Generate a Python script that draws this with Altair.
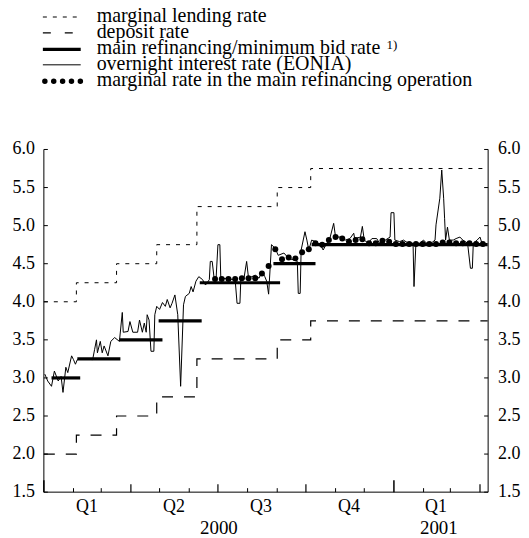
import altair as alt
import pandas as pd

# ---------------- data ----------------
eonia_dates = [
    "2000-01-02", "2000-01-05", "2000-01-09", "2000-01-12", "2000-01-16", "2000-01-19",
    "2000-01-21", "2000-01-24", "2000-01-26", "2000-01-30", "2000-02-01", "2000-02-03",
    "2000-02-05", "2000-02-12", "2000-02-21", "2000-02-23", "2000-02-25", "2000-02-26",
    "2000-02-29", "2000-03-02", "2000-03-04", "2000-03-08", "2000-03-11", "2000-03-15",
    "2000-03-20", "2000-03-23", "2000-03-24", "2000-03-29", "2000-03-31", "2000-04-03",
    "2000-04-08", "2000-04-10", "2000-04-13", "2000-04-15", "2000-04-17", "2000-04-18",
    "2000-04-20", "2000-04-22", "2000-04-25", "2000-04-26", "2000-04-28", "2000-05-01",
    "2000-05-04", "2000-05-07", "2000-05-09", "2000-05-12", "2000-05-14", "2000-05-17",
    "2000-05-20", "2000-05-23", "2000-05-26", "2000-05-28", "2000-06-01", "2000-06-03",
    "2000-06-05", "2000-06-08", "2000-06-11", "2000-06-15", "2000-06-18", "2000-06-22",
    "2000-06-23", "2000-06-25", "2000-06-27", "2000-06-29", "2000-07-01", "2000-07-03",
    "2000-07-04", "2000-07-12", "2000-07-19", "2000-07-21", "2000-07-24", "2000-07-25",
    "2000-07-28", "2000-07-31", "2000-08-02", "2000-08-09", "2000-08-13", "2000-08-16",
    "2000-08-19", "2000-08-21", "2000-08-23", "2000-08-26", "2000-08-30", "2000-09-02",
    "2000-09-08", "2000-09-13", "2000-09-18", "2000-09-22", "2000-09-23", "2000-09-25",
    "2000-09-26", "2000-09-30", "2000-10-02", "2000-10-04", "2000-10-07", "2000-10-11",
    "2000-10-16", "2000-10-19", "2000-10-23", "2000-10-26", "2000-10-30", "2000-11-01",
    "2000-11-06", "2000-11-11", "2000-11-16", "2000-11-20", "2000-11-21", "2000-11-27",
    "2000-11-29", "2000-12-01", "2000-12-05", "2000-12-09", "2000-12-14", "2000-12-17",
    "2000-12-23", "2000-12-28", "2000-12-29", "2001-01-01", "2001-01-02", "2001-01-07",
    "2001-01-11", "2001-01-16", "2001-01-21", "2001-01-22", "2001-01-24", "2001-01-28",
    "2001-02-01", "2001-02-04", "2001-02-09", "2001-02-13", "2001-02-14", "2001-02-18",
    "2001-02-20", "2001-02-22", "2001-02-23", "2001-02-24", "2001-02-26", "2001-02-28",
    "2001-03-04", "2001-03-07", "2001-03-11", "2001-03-14", "2001-03-19", "2001-03-22",
    "2001-03-24", "2001-03-25", "2001-03-29", "2001-04-01", "2001-04-03", "2001-04-07",
]
eonia_values = [
    3.05, 2.96, 2.89, 3.09, 2.96, 3.02,
    2.81, 3.14, 3.07, 3.29, 3.24, 3.18,
    3.24, 3.25, 3.24, 3.37, 3.50, 3.33,
    3.48, 3.33, 3.42, 3.29, 3.48, 3.53,
    3.48, 3.86, 3.60, 3.61, 3.74, 3.60,
    3.60, 3.76, 3.60, 3.72, 3.60, 3.83,
    3.76, 3.35, 3.35, 3.83, 3.94, 3.90,
    3.99, 3.94, 4.03, 3.92, 3.98, 4.09,
    3.83, 2.89, 3.96, 4.07, 4.11, 4.20,
    4.13, 4.27, 4.33, 4.29, 4.22, 4.29,
    4.53, 4.53, 4.31, 4.29, 4.75, 4.75,
    4.31, 4.30, 4.29, 3.98, 3.98, 4.31,
    4.29, 4.53, 4.31, 4.35, 4.31, 4.40,
    4.33, 4.27, 4.10, 4.75, 4.70, 4.61,
    4.64, 4.57, 4.55, 4.53, 4.11, 4.11,
    4.68, 4.92, 4.81, 4.68, 4.81, 4.79,
    4.75, 4.68, 4.77, 4.83, 5.03, 4.85,
    4.85, 4.81, 4.83, 4.90, 4.83, 4.85,
    4.99, 4.81, 4.77, 4.83, 4.83, 4.77,
    4.81, 4.85, 5.17, 5.17, 4.81, 4.79,
    4.81, 4.77, 4.77, 4.20, 4.77, 4.77,
    4.81, 4.77, 4.77, 4.81, 5.01, 5.36,
    5.73, 5.36, 5.09, 4.81, 4.98, 4.81,
    4.81, 4.83, 4.85, 4.81, 4.77, 4.44,
    4.44, 4.77, 4.81, 4.85, 4.77, 4.75,
]

step_dates = ["2000-01-01", "2000-02-04", "2000-03-17", "2000-04-28",
              "2000-06-09", "2000-09-01", "2000-10-06", "2001-04-09"]
lending_values = [4.00, 4.25, 4.50, 4.75, 5.25, 5.50, 5.75, 5.75]
deposit_values = [2.00, 2.25, 2.50, 2.75, 3.25, 3.50, 3.75, 3.75]

mro_start = ["2000-01-09", "2000-02-05", "2000-03-20", "2000-04-30",
             "2000-06-12", "2000-08-28", "2000-10-07"]
mro_end = ["2000-02-08", "2000-03-21", "2000-05-04", "2000-06-14",
           "2000-09-04", "2000-10-11", "2001-04-09"]
mro_values = [3.00, 3.25, 3.50, 3.75, 4.25, 4.50, 4.75]

marginal_first = "2000-06-28"
marginal_values = [
    4.30, 4.30, 4.30, 4.30, 4.31, 4.31, 4.31, 4.37, 4.47, 4.69,
    4.56, 4.58, 4.57, 4.65, 4.69, 4.77, 4.75, 4.81, 4.85, 4.83,
    4.79, 4.81, 4.82, 4.77, 4.77, 4.80, 4.79, 4.76, 4.76, 4.76,
    4.76, 4.76, 4.76, 4.76, 4.78, 4.78, 4.77, 4.77, 4.77, 4.76,
    4.76,
]

y_ticks = [1.5, 2.0, 2.5, 3.0, 3.5, 4.0, 4.5, 5.0, 5.5, 6.0]
month_ticks = ["2000-02-01", "2000-03-01", "2000-05-01", "2000-06-01", "2000-08-01",
               "2000-09-01", "2000-11-01", "2000-12-01", "2001-02-01", "2001-03-01"]
quarter_ticks = ["2000-04-01", "2000-07-01", "2000-10-01", "2001-04-01"]
year_ticks = ["2000-01-01", "2001-01-01"]
quarter_labels = ["Q1", "Q2", "Q3", "Q4", "Q1"]
quarter_mids = ["2000-02-15", "2000-05-16", "2000-08-15", "2000-11-15", "2001-02-14"]
year_labels = ["2000", "2001"]
year_mids = ["2000-07-02", "2001-02-17"]

legend_labels = [
    "marginal lending rate",
    "deposit rate",
    "main refinancing/minimum bid rate",
    "overnight interest rate (EONIA)",
    "marginal rate in the main refinancing operation",
]

# ---------------- tables ----------------
df_eonia = pd.DataFrame({"date": pd.to_datetime(eonia_dates), "v": eonia_values})
df_lend = pd.DataFrame({"date": pd.to_datetime(step_dates), "v": lending_values})
df_dep = pd.DataFrame({"date": pd.to_datetime(step_dates), "v": deposit_values})
df_mro = pd.DataFrame({"d1": pd.to_datetime(mro_start), "d2": pd.to_datetime(mro_end),
                       "v": mro_values})
df_marg = pd.DataFrame({
    "date": pd.date_range(marginal_first, periods=len(marginal_values), freq="7D"),
    "v": marginal_values})
df_yt = pd.DataFrame({"v": y_ticks})
df_mt = pd.DataFrame({"date": pd.to_datetime(month_ticks)})
df_qt = pd.DataFrame({"date": pd.to_datetime(quarter_ticks)})
df_yrt = pd.DataFrame({"date": pd.to_datetime(year_ticks)})
df_ql = pd.DataFrame({"date": pd.to_datetime(quarter_mids), "lab": quarter_labels})
df_yl = pd.DataFrame({"date": pd.to_datetime(year_mids), "lab": year_labels})
one = pd.DataFrame({"k": [0]})

# ---------------- geometry / style ----------------
W, H = 446, 344
FONT = "Liberation Serif"
AX_FS = 18
YR_FS = 19
LEG_FS = 20

xscale = alt.Scale(domain=[alt.DateTime(year=2000, month=1, date=1),
                           alt.DateTime(year=2001, month=4, date=9, hours=12)])
yscale = alt.Scale(domain=[1.5, 6.0], nice=False, zero=False)


def X(f="date"):
    return alt.X(f"{f}:T", scale=xscale, axis=None)


def Y():
    return alt.Y("v:Q", scale=yscale, axis=None)


lend = alt.Chart(df_lend).mark_line(
    interpolate="step-after", color="black", strokeWidth=1, strokeDash=[4, 6]
).encode(x=X(), y=Y())

dep = alt.Chart(df_dep).mark_line(
    interpolate="step-after", color="black", strokeWidth=1.2, strokeDash=[11, 11]
).encode(x=X(), y=Y())

eonia = alt.Chart(df_eonia).mark_line(color="black", strokeWidth=1).encode(x=X(), y=Y())

mro = alt.Chart(df_mro).mark_rule(color="black", strokeWidth=3.2).encode(
    x=X("d1"), x2="d2:T", y=Y())

marg = alt.Chart(df_marg).mark_point(filled=True, color="black", size=36, opacity=1).encode(
    x=X(), y=Y())

# axes drawn by hand (ticks point inward)
dom_left = alt.Chart(one).mark_rule(color="black").encode(
    x=alt.value(0), y=alt.value(0), y2=alt.value(H))
dom_right = alt.Chart(one).mark_rule(color="black").encode(
    x=alt.value(W), y=alt.value(0), y2=alt.value(H))
dom_bottom = alt.Chart(one).mark_rule(color="black").encode(
    x=alt.value(0), x2=alt.value(W), y=alt.value(H))

ytick_l = alt.Chart(df_yt).mark_rule(color="black").encode(
    y=Y(), x=alt.value(0), x2=alt.value(4))
ytick_r = alt.Chart(df_yt).mark_rule(color="black").encode(
    y=Y(), x=alt.value(W - 4), x2=alt.value(W))
ylab_l = alt.Chart(df_yt).mark_text(font=FONT, fontSize=AX_FS, color="black",
                                    align="right", baseline="middle").encode(
    y=Y(), x=alt.value(-9), text=alt.Text("v:Q", format=".1f"))
ylab_r = alt.Chart(df_yt).mark_text(font=FONT, fontSize=AX_FS, color="black",
                                    align="left", baseline="middle").encode(
    y=Y(), x=alt.value(W + 10), text=alt.Text("v:Q", format=".1f"))

mtick = alt.Chart(df_mt).mark_rule(color="black").encode(
    x=X(), y=alt.value(H), y2=alt.value(H - 4))
qtick = alt.Chart(df_qt).mark_rule(color="black", strokeWidth=1.2).encode(
    x=X(), y=alt.value(H), y2=alt.value(H - 8))
yrtick = alt.Chart(df_yrt).mark_rule(color="black", strokeWidth=1.5).encode(
    x=X(), y=alt.value(H), y2=alt.value(H - 12))

qlab = alt.Chart(df_ql).mark_text(font=FONT, fontSize=AX_FS, color="black",
                                  baseline="middle").encode(
    x=X(), y=alt.value(H + 15), text="lab:N")
ylab = alt.Chart(df_yl).mark_text(font=FONT, fontSize=YR_FS, color="black",
                                  baseline="middle").encode(
    x=X(), y=alt.value(H + 36), text="lab:N")

# ---------------- legend ----------------
leg_base = [-127.5, -111.5, -95.5, -79.5, -63.5]
leg_sym = [-133, -117, -100.5, -85, -68.5]
sym_x1, sym_x2, txt_x = -1, 37, 53

legend_layers = []
for lab, yb in zip(legend_labels, leg_base):
    legend_layers.append(
        alt.Chart(one).mark_text(text=lab, font=FONT, fontSize=LEG_FS, color="black",
                                 align="left", baseline="alphabetic").encode(
            x=alt.value(txt_x), y=alt.value(yb)))
legend_layers.append(
    alt.Chart(one).mark_text(text="1)", font=FONT, fontSize=13, color="black",
                             align="left", baseline="alphabetic").encode(
        x=alt.value(txt_x + 291), y=alt.value(leg_base[2] - 5)))

sym_styles = [
    dict(strokeWidth=1, strokeDash=[4, 6]),
    dict(strokeWidth=1.2, strokeDash=[8, 14]),
    dict(strokeWidth=3.2),
    dict(strokeWidth=1),
    dict(strokeWidth=5.5, strokeDash=[0.01, 8.9], strokeCap="round"),
]
for st, ys in zip(sym_styles, leg_sym):
    legend_layers.append(
        alt.Chart(one).mark_rule(color="black", **st).encode(
            x=alt.value(sym_x1 + (2 if "strokeCap" in st else 0)),
            x2=alt.value(sym_x2), y=alt.value(ys)))

chart = alt.layer(
    lend, dep, eonia, mro, marg,
    dom_left, dom_right, dom_bottom, ytick_l, ytick_r, ylab_l, ylab_r,
    mtick, qtick, yrtick, qlab, ylab, *legend_layers
).properties(
    width=W, height=H,
    padding={"left": 36, "top": 141, "right": 33, "bottom": 46},
    autosize=alt.AutoSizeParams(type="none"),
).configure_view(stroke=None)

chart.save("out.html", embed_options={"renderer": "svg", "actions": False})
